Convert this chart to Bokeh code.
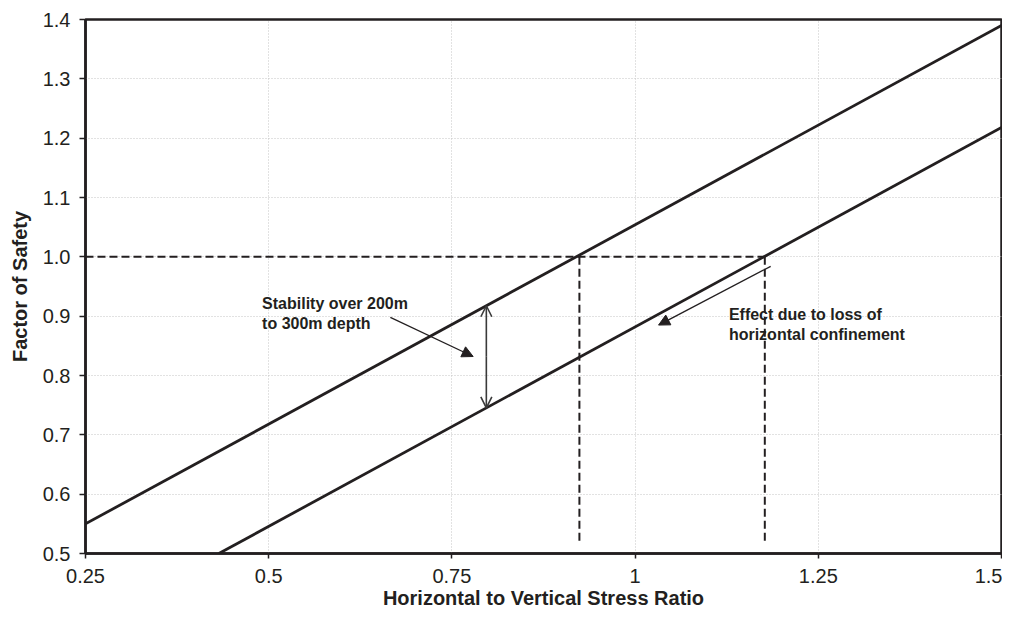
from bokeh.plotting import figure
from bokeh.models import Range1d, FixedTicker, NumeralTickFormatter, Arrow, NormalHead, OpenHead, ColumnDataSource
from bokeh.core.properties import value
from bokeh.embed import file_html
from bokeh.resources import INLINE

# ---- data ----
x_ticks = [0.25, 0.5, 0.75, 1.0, 1.25, 1.5]
y_ticks = [0.5, 0.6, 0.7, 0.8, 0.9, 1.0, 1.1, 1.2, 1.3, 1.4]

upper_x = [0.25, 1.5]
upper_y = [0.55, 1.39]
lower_x = [0.432, 1.5]
lower_y = [0.5, 1.218]

fos_limit = 1.0
limit_x_upper = 0.924
limit_x_lower = 1.177
dash_bottom = 0.515

# annotations (label texts)
stab_lines = ["Stability over 200m", "to 300m depth"]
effect_lines = ["Effect due to loss of", "horizontal confinement"]
x_title = "Horizontal to Vertical Stress Ratio"
y_title = "Factor of Safety"

INK = "#231f20"
FONT = "Liberation Sans"

p = figure(width=1002, height=614, output_backend="svg", toolbar_location=None,
           x_range=Range1d(0.25, 1.5), y_range=Range1d(0.5, 1.4),
           min_border_left=85, min_border_right=1, min_border_top=19, min_border_bottom=61)

p.background_fill_color = "white"
p.border_fill_color = "white"
p.outline_line_color = INK
p.outline_line_width = 2.5
p.outline_line_alpha = 1.0

for ax in (p.xaxis, p.yaxis):
    ax.axis_line_color = INK
    ax.axis_line_width = 2.5
    ax.major_tick_line_color = INK
    ax.major_tick_line_width = 1.5
    ax.major_tick_in = 0
    ax.minor_tick_line_color = None
    ax.major_label_text_font = FONT
    ax.major_label_text_font_size = "20px"
    ax.major_label_text_color = INK
    ax.axis_label_text_font = FONT
    ax.axis_label_text_font_size = "20px"
    ax.axis_label_text_font_style = "bold"
    ax.axis_label_text_color = INK

p.xaxis.ticker = FixedTicker(ticks=x_ticks)
p.yaxis.ticker = FixedTicker(ticks=y_ticks)
p.xaxis.formatter = NumeralTickFormatter(format="0.[00]")
p.yaxis.formatter = NumeralTickFormatter(format="0.0")
p.xaxis.major_tick_out = 5
p.yaxis.major_tick_out = 6
p.xaxis.major_label_standoff = 10
p.yaxis.major_label_standoff = 9
p.xaxis.axis_label = x_title
p.yaxis.axis_label = y_title
p.xaxis.axis_label_standoff = 1
p.yaxis.axis_label_standoff = 9

p.grid.grid_line_color = "#c4c4c4"
p.grid.grid_line_dash = "1 2"
p.grid.grid_line_width = 1

# dashed guide lines
p.line([0.25, limit_x_lower], [fos_limit, fos_limit], line_color=INK, line_width=2, line_dash="8 4")
p.line([limit_x_upper, limit_x_upper], [fos_limit, dash_bottom], line_color=INK, line_width=2, line_dash="8 4")
p.line([limit_x_lower, limit_x_lower], [fos_limit, dash_bottom], line_color=INK, line_width=2, line_dash="8 4")

# main lines
p.line(upper_x, upper_y, line_color=INK, line_width=2.8)
p.line(lower_x, lower_y, line_color=INK, line_width=2.8)

# double arrow between the lines
slope = (upper_y[1] - upper_y[0]) / (upper_x[1] - upper_x[0])
ax_x = 0.797
top_y = upper_y[0] + slope * (ax_x - upper_x[0])
bot_y = lower_y[0] + slope * (ax_x - lower_x[0])
p.add_layout(Arrow(x_start=ax_x, y_start=(top_y + bot_y) / 2, x_end=ax_x, y_end=top_y,
                   line_color="#3a3a3a", line_width=1.6,
                   end=OpenHead(size=11, line_color="#3a3a3a", line_width=1.6)))
p.add_layout(Arrow(x_start=ax_x, y_start=(top_y + bot_y) / 2, x_end=ax_x, y_end=bot_y,
                   line_color="#3a3a3a", line_width=1.6,
                   end=OpenHead(size=11, line_color="#3a3a3a", line_width=1.6)))

# pointer arrows
p.add_layout(Arrow(x_start=0.666, y_start=0.898, x_end=0.779, y_end=0.832,
                   line_color=INK, line_width=1.3,
                   end=NormalHead(size=11, fill_color=INK, line_color=INK, line_width=1)))
p.add_layout(Arrow(x_start=1.185, y_start=0.984, x_end=1.032, y_end=0.885,
                   line_color=INK, line_width=1.3,
                   end=NormalHead(size=11, fill_color=INK, line_color=INK, line_width=1)))

# annotation text
src = ColumnDataSource(dict(
    x=[0.491, 0.491, 1.128, 1.128],
    y=[0.922, 0.888, 0.9024, 0.8688],
    t=stab_lines + effect_lines,
))
p.text(x="x", y="y", text="t", source=src, text_font=value(FONT), text_font_size="16px",
       text_font_style="bold", text_color=INK, text_baseline="alphabetic", text_align="left")

open("out.html", "w").write(file_html(p, INLINE))
